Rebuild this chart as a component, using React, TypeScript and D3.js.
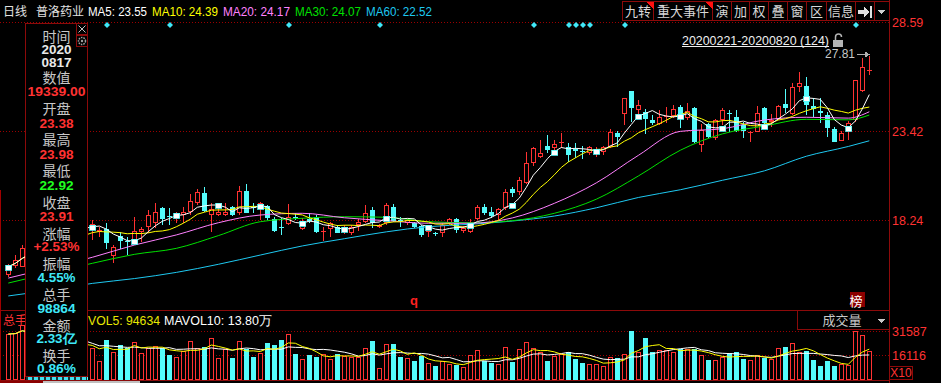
import React from 'react';
import * as d3 from 'd3';

// ---------------- DATA ----------------
const OPEN = [15.04,15.56,15.52,16.5,16.9,17.2,16.8,17.3,17.6,17.4,17.8,18.1,17.70,17.57,17.70,16.16,17.31,17.01,16.88,17.52,17.81,18.08,18.92,18.46,18.28,18.53,18.72,19.25,19.83,18.53,18.53,18.53,18.98,18.66,19.93,19.01,18.92,19.05,18.28,17.85,18.01,18.43,17.70,18.27,18.43,17.56,17.70,17.85,17.55,17.47,17.95,18.14,18.82,17.81,18.05,18.98,18.23,18.05,18.05,17.89,17.56,17.50,17.50,18.05,18.28,17.62,17.56,18.28,18.98,18.72,18.53,18.92,20.03,19.89,20.38,21.58,21.89,22.55,22.41,22.70,22.47,22.35,22.24,22.12,22.08,22.22,22.47,23.32,24.41,25.75,24.64,24.54,24.06,23.83,24.22,24.29,24.80,24.16,24.74,22.61,23.83,22.99,24.06,24.48,24.22,23.79,23.29,23.38,24.74,23.96,24.12,24.99,24.41,26.00,26.04,24.89,24.60,24.35,23.54,22.86,23.38,24.06,25.77,26.91];
const HIGH = [15.68,16.20,16.78,17.0,17.4,17.3,17.5,17.8,17.7,18.0,18.3,18.3,18.24,17.85,18.07,16.78,17.56,17.27,18.40,17.85,18.82,19.25,18.98,18.92,18.72,18.98,19.75,20.03,20.14,19.21,19.25,19.25,19.05,20.22,20.33,19.21,19.30,19.11,18.43,18.34,19.17,18.62,18.36,18.66,18.53,17.81,18.14,17.95,17.95,17.95,18.28,19.11,18.98,18.01,19.21,19.17,18.40,18.28,18.14,17.95,17.76,17.56,18.05,18.34,18.34,17.89,18.28,19.11,19.17,18.98,18.92,20.03,20.18,20.72,22.22,22.47,22.90,23.19,22.90,23.29,22.74,22.70,22.55,22.55,22.47,22.55,23.52,23.44,25.32,25.75,25.22,24.68,24.35,24.64,24.83,24.93,24.93,25.03,24.80,23.83,23.90,24.10,24.74,24.64,24.64,23.96,23.42,24.87,24.80,24.39,24.93,25.85,26.23,26.87,26.55,25.32,25.32,24.51,23.67,23.42,23.98,26.39,27.65,27.81];
const LOW = [14.92,15.45,15.50,16.3,16.7,16.6,16.7,17.1,17.2,17.3,17.6,17.8,17.08,17.27,16.55,15.74,16.53,16.20,16.78,16.98,17.47,17.76,17.95,17.95,18.05,18.05,18.53,19.11,18.72,17.56,18.50,18.50,18.47,18.53,18.63,18.66,18.24,18.24,17.56,17.37,17.95,18.24,17.66,18.08,17.50,17.03,17.27,17.47,17.40,17.37,17.62,18.05,17.76,17.76,17.95,18.14,17.85,17.95,17.76,17.27,17.27,17.31,17.27,17.95,17.50,17.47,17.50,18.24,18.53,18.34,18.24,18.82,19.60,19.69,20.34,21.38,21.83,22.12,22.31,22.41,21.63,21.83,21.77,22.02,21.89,22.02,22.41,22.51,23.77,23.96,24.22,23.25,23.77,23.77,23.87,24.16,23.58,24.06,22.70,22.22,23.00,22.90,23.77,23.38,23.38,22.99,22.80,23.34,23.83,23.67,24.06,24.45,24.35,25.71,24.35,24.25,23.87,23.09,22.80,22.84,22.92,23.96,25.71,26.68];
const CLOSE = [15.52,15.91,16.59,16.9,17.2,16.8,17.3,17.6,17.4,17.8,18.1,17.9,18.01,17.63,16.92,16.65,17.03,16.95,17.60,17.70,18.53,18.72,18.28,18.40,18.59,18.72,19.35,19.85,18.78,18.86,18.72,18.72,18.53,19.93,18.66,18.95,19.21,18.34,17.62,17.78,18.40,18.34,18.14,18.21,17.52,17.62,18.05,17.50,17.80,17.81,18.14,18.66,18.05,17.95,19.11,18.20,18.17,18.24,17.81,17.37,17.70,17.43,17.95,18.28,17.66,17.76,18.08,18.98,18.66,18.47,18.86,19.89,19.79,20.57,21.58,22.41,22.12,22.31,22.66,22.80,22.02,22.27,22.18,22.47,22.27,22.47,23.38,23.05,25.32,24.78,24.93,24.12,23.90,24.22,24.29,24.68,24.35,24.60,22.80,23.48,23.09,24.06,24.64,24.41,23.44,23.44,23.38,24.45,23.87,24.06,24.87,24.74,26.00,26.23,24.93,24.68,24.45,23.58,22.80,23.32,23.91,26.37,27.13,26.97];
const VOLUME = [296500,301000,354500,280000,250000,220000,260000,240000,230000,210000,250000,220000,204300,122500,257800,178600,225600,204300,246900,176000,208200,219200,208200,161200,146300,188900,251400,208200,210800,268800,143700,197900,141800,251400,197900,150200,176000,240400,223700,257800,296500,167600,133400,163100,150200,165700,135400,169500,154700,150200,150200,204300,251400,75400,230100,230100,150200,139900,124400,156600,107600,90200,124400,101200,96700,81900,161200,193400,124400,111500,101200,210800,118000,197900,243000,208200,178600,122500,154700,167600,178600,135400,111500,103100,103100,90200,146300,139900,167600,315900,178600,270700,178600,193400,193400,178600,197900,197900,197900,161200,128900,128900,146300,172100,178600,135400,128900,161200,143700,135400,204300,210800,236600,178600,186900,128900,90200,122500,90200,103100,98864,315900,290100,186900];

const MA_IDX = [0,6,12,18,24,30,36,42,48,54,60,66,72,78,84,90,96,102,108,114,120,123];
const MA20_READ = [14.86,15.45,16.07,16.78,17.37,18.08,18.53,18.63,18.37,18.20,18.05,18.05,18.36,19.21,20.40,22.00,23.40,23.55,24.06,24.22,24.17,24.54];
const MA30_READ = [14.57,15.15,15.72,16.24,16.59,17.33,18.14,18.34,18.43,18.40,18.14,18.08,18.20,18.63,19.45,20.80,22.30,23.25,23.71,24.10,24.07,24.35];
const MA60_READ = [13.82,14.16,14.55,14.83,15.19,15.66,16.20,16.73,17.15,17.55,17.85,17.99,18.18,18.47,18.95,19.55,20.00,20.55,21.10,21.95,22.52,22.85];

const EVENT_IDX = [14,23,40,53,75,80,81,82,83,88,121];
const PRICE_TICKS = [23.42, 18.24];
const PRICE_TOP_LABEL = '28.59';
const VOL_TICKS = [315870, 161160];
const HIGH_LABEL = '27.81';
const RANGE_LABEL = '20200221-20200820 (124)';

const TITLE = ['日线', '普洛药业'];
const MA_LEGEND = ['MA5: 23.55', 'MA10: 24.39', 'MA20: 24.17', 'MA30: 24.07', 'MA60: 22.52'];
const VOL_LEGEND = ['VOL5: 94634', 'MAVOL10: 13.80万'];
const TOOLBAR = ['九转', '重大事件', '演', '加', '权', '叠', '窗', '区', '信息', '', ''];
const INFO_ITEMS = ['时间','2020','0817','数值','19339.00','开盘','23.38','最高','23.98','最低','22.92','收盘','23.91','涨幅','+2.53%','振幅','4.55%','总手','98864','金额','2.33亿','换手','0.86%'];

// ---------------- STYLE / LAYOUT ----------------
const W = 941, H = 383;
const RED = '#ff3232', CYAN = '#54fcfc', DARKRED = '#8c0a0a', GRID = '#9a0000';
const MA_COLORS = ['#ffffff', '#ffff00', '#ff80ff', '#00e000', '#1ec8f0'];
const MA_LEGEND_X = [88, 152, 223, 295, 366];
const MA_LEGEND_W = [59, 66, 67, 66, 66];
const TOOL_X = [622.5, 653.5, 712.5, 731.5, 749.5, 768.5, 787.5, 806.5, 826.5, 855.5, 874.5, 889.5];
const INFO_Y = [35.5, 50, 62.5, 77, 92, 107.5, 123.5, 139, 154.5, 170, 185.5, 201.5, 216.5, 232.5, 246.5, 263, 278, 293.5, 308.5, 325, 339, 355, 368.5];
const INFO_COLORS = ['#c8c8c8','#e8e8e8','#e8e8e8','#c8c8c8',RED,'#c8c8c8',RED,'#c8c8c8',RED,'#c8c8c8','#20ff20','#c8c8c8',RED,'#c8c8c8',RED,'#c8c8c8','#3ee8f8','#c8c8c8','#3ee8f8','#c8c8c8','#3ee8f8','#c8c8c8','#3ee8f8'];
const INFO_W = [0,30,30,0,58,0,34,0,34,0,34,0,34,0,46,0,38,0,38,0,40,0,39];
const LATIN = '"Liberation Sans", Arial, sans-serif';
const CJK = '"Noto Sans CJK SC", "Liberation Sans", sans-serif';

function sma(arr: number[], n: number) {
  return arr.map((_, i) => d3.mean(arr.slice(Math.max(0, i - n + 1), i + 1)) as number);
}

export default function App() {
  const N = CLOSE.length;
  const x = d3.scaleLinear().domain([0, N - 1]).range([8.3, 869.3]);
  const yP = d3.scaleLinear().domain([18.24, 23.42]).range([220, 131]);
  const yV = d3.scaleLinear().domain([0, VOL_TICKS[0]]).range([380, 331]);

  const ma5 = sma(CLOSE, 5);
  const ma10 = sma(CLOSE, 10);
  const vma5 = sma(VOLUME, 5);
  const vma10 = sma(VOLUME, 10);

  const lineIdx = d3.line<number>().x((_, i) => x(i)).y((v) => yP(v));
  const lineRead = d3.line<[number, number]>().x((d) => x(d[0])).y((d) => yP(d[1])).curve(d3.curveMonotoneX);
  const lineVol = d3.line<number>().x((_, i) => x(i)).y((v) => yV(v));
  const pairs = (vals: number[]) => MA_IDX.map((k, j) => [k, vals[j]] as [number, number]);

  const candles = CLOSE.map((c, i) => {
    const o = OPEN[i], h = HIGH[i], l = LOW[i];
    const cx = Math.round(x(i));
    const up = c >= o;
    const top = Math.round(yP(Math.max(o, c)));
    const bot = Math.round(yP(Math.min(o, c)));
    const yh = Math.round(yP(h)), yl = Math.round(yP(l));
    const col = up ? RED : CYAN;
    if (bot - top < 2) {
      return (
        <g key={i}>
          <line x1={cx + 0.5} x2={cx + 0.5} y1={yh} y2={yl} stroke={col} />
          <rect x={cx - 2} y={top} width={5} height={Math.max(1, bot - top)} fill={col} />
        </g>
      );
    }
    if (up) {
      return (
        <g key={i}>
          <line x1={cx + 0.5} x2={cx + 0.5} y1={yh} y2={top} stroke={col} />
          <line x1={cx + 0.5} x2={cx + 0.5} y1={bot} y2={yl} stroke={col} />
          <rect x={cx - 1.5} y={top + 0.5} width={4} height={bot - top - 1} fill="#000" stroke={col} />
        </g>
      );
    }
    return (
      <g key={i}>
        <line x1={cx + 0.5} x2={cx + 0.5} y1={yh} y2={yl} stroke={col} />
        <rect x={cx - 2} y={top} width={5} height={bot - top} fill={col} />
      </g>
    );
  });

  const volBars = VOLUME.map((v, i) => {
    const cx = Math.round(x(i));
    const up = CLOSE[i] >= OPEN[i];
    const top = Math.round(yV(v));
    return up ? (
      <rect key={i} x={cx - 1.5} y={top + 0.5} width={4} height={380 - top - 1} fill="#000" stroke={RED} />
    ) : (
      <rect key={i} x={cx - 2} y={top} width={5} height={380 - top} fill={CYAN} />
    );
  });

  const markers = CLOSE.map((_, i) => i).filter((i) => i % 6 === 0).map((i) => {
    const cx = Math.round(x(i));
    const cy = Math.round(yP(ma5[i]));
    return <rect key={i} x={cx - 2.5} y={cy - 2} width={6} height={5} fill="#ffffff" stroke={CYAN} strokeWidth={0.8} />;
  });

  const scrollDots = d3.range(28, 86, 6);

  return (
    <svg width={W} height={H} style={{ position: 'fixed', left: 0, top: 0, background: '#000' }} shapeRendering="crispEdges">
      <defs>
        <clipPath id="pclip"><rect x={0} y={22} width={889} height={288} /></clipPath>
        <clipPath id="vclip"><rect x={0} y={311} width={889} height={70} /></clipPath>
      </defs>
      <rect x={0} y={0} width={W} height={H} fill="#000" />

      {/* header */}
      <g fontFamily={CJK} fontSize={12} fill="#e0e0e0">
        <text x={3} y={16}>{TITLE[0]}</text>
        <text x={36} y={16}>{TITLE[1]}</text>
      </g>
      <g fontFamily={LATIN} fontSize={12.5}>
        {MA_LEGEND.map((t, k) => (
          <text key={k} x={MA_LEGEND_X[k]} y={16} fill={MA_COLORS[k]} textLength={MA_LEGEND_W[k]} lengthAdjust="spacingAndGlyphs">{t}</text>
        ))}
      </g>

      {/* toolbar */}
      <g>
        {TOOLBAR.map((t, k) => (
          <g key={k}>
            <rect x={TOOL_X[k]} y={1.5} width={TOOL_X[k + 1] - TOOL_X[k]} height={19} fill="#000" stroke={DARKRED} />
            {t && <text x={(TOOL_X[k] + TOOL_X[k + 1]) / 2} y={16} textAnchor="middle" fontFamily={CJK} fontSize={13} fill="#d8d8d8">{t}</text>}
          </g>
        ))}
        <path d={`M${TOOL_X[1] - 7},2 L${TOOL_X[1]},2 L${TOOL_X[1]},9 Z`} fill="#ff1010" />
        <path d={`M${TOOL_X[2] - 7},2 L${TOOL_X[2]},2 L${TOOL_X[2]},9 Z`} fill="#ff1010" />
        <path d="M858,10 H864 V7 L869,12 L864,17 V14 H858 Z" fill="#e0e0e0" />
        <rect x={870} y={6} width={2} height={12} fill="#e0e0e0" />
        <path d="M878,10 L885,10 L881.5,14 Z" fill="#d0d0d0" />
      </g>

      {/* grid */}
      <g stroke={GRID} strokeDasharray="1 2">
        <line x1={0} x2={889} y1={22.5} y2={22.5} />
        {PRICE_TICKS.map((t) => <line key={t} x1={0} x2={889} y1={Math.round(yP(t)) + 0.5} y2={Math.round(yP(t)) + 0.5} />)}
        {VOL_TICKS.map((t) => <line key={t} x1={0} x2={889} y1={Math.round(yV(t)) + 0.5} y2={Math.round(yV(t)) + 0.5} />)}
      </g>

      {/* event diamonds */}
      {EVENT_IDX.map((i) => {
        const cx = Math.round(x(i)) + 1;
        return <path key={i} d={`M${cx},22 L${cx + 3},25 L${cx},28 L${cx - 3},25 Z`} fill="#40e8f8" shapeRendering="auto" />;
      })}

      {/* price panel */}
      <g clipPath="url(#pclip)">
        {candles}
        <g fill="none" strokeWidth={1} shapeRendering="auto">
          <path d={lineRead(pairs(MA60_READ)) || ''} stroke={MA_COLORS[4]} />
          <path d={lineRead(pairs(MA30_READ)) || ''} stroke={MA_COLORS[3]} />
          <path d={lineRead(pairs(MA20_READ)) || ''} stroke={MA_COLORS[2]} />
          <path d={lineIdx(ma10) || ''} stroke={MA_COLORS[1]} />
          <path d={lineIdx(ma5) || ''} stroke={MA_COLORS[0]} />
        </g>
        {markers}
      </g>

      {/* max label */}
      <text x={825} y={58} fontFamily={LATIN} fontSize={12} fill="#c8c8c8">{HIGH_LABEL}</text>
      <line x1={857} x2={866} y1={54.5} y2={54.5} stroke="#b0b0b0" />
      <path d="M865,51.5 L870,54.5 L865,57.5 Z" fill="#b0b0b0" />
      <text x={682} y={45} fontFamily={LATIN} fontSize={12} fill="#f0f0f0" textLength={147} lengthAdjust="spacingAndGlyphs">{RANGE_LABEL}</text>
      <line x1={682} x2={829} y1={46.5} y2={46.5} stroke="#f0f0f0" />
      <rect x={833} y={40} width={10} height={7} fill="#b4b4b4" />
      <path d="M835.5,40 V37 a3,3 0 0 1 6,0" fill="none" stroke="#b4b4b4" strokeWidth={1.5} shapeRendering="auto" />

      {/* markers q and 榜 */}
      <text x={414} y={305} textAnchor="middle" fontFamily={LATIN} fontWeight="bold" fontSize={13} fill="#ff2020">q</text>
      <rect x={850} y={292} width={15} height={15} fill="#8b0000" />
      <text x={856} y={306} textAnchor="middle" fontFamily={CJK} fontSize={13} fill="#ffffff">榜</text>

      {/* panel separators / axis */}
      <line x1={0} x2={889} y1={310.5} y2={310.5} stroke={DARKRED} />
      <line x1={0} x2={889} y1={380.5} y2={380.5} stroke={DARKRED} />
      <line x1={889.5} x2={889.5} y1={0} y2={H} stroke={DARKRED} />
      <line x1={0.5} x2={0.5} y1={190} y2={H} stroke="#a00000" />

      {/* volume panel */}
      <g clipPath="url(#vclip)">
        {volBars}
        <g fill="none" shapeRendering="auto">
          <path d={lineVol(vma10) || ''} stroke="#ffffff" />
          <path d={lineVol(vma5) || ''} stroke="#ffff00" />
        </g>
      </g>
      <text x={3} y={325} fontFamily={CJK} fontSize={12} fill={RED}>总手</text>
      <text x={88} y={325} fontFamily={LATIN} fontSize={12.5} fill="#e8e800" textLength={72} lengthAdjust="spacingAndGlyphs">{VOL_LEGEND[0]}</text>
      <text x={164} y={325} fontFamily={LATIN} fontSize={12.5} fill="#ffffff">{VOL_LEGEND[1]}</text>
      <rect x={797.5} y={310.5} width={92} height={19} fill="#000" stroke={DARKRED} />
      <text x={842} y={325} textAnchor="middle" fontFamily={CJK} fontSize={13} fill="#c8c8c8">成交量</text>
      <path d="M878,319 L885,319 L881.5,323 Z" fill="#c8c8c8" />

      {/* right axis labels */}
      <g fontFamily={LATIN} fontSize={12.5} fill="#ff3232" dominantBaseline="central">
        <text x={892} y={23}>{PRICE_TOP_LABEL}</text>
        {PRICE_TICKS.map((t) => <text key={t} x={892} y={Math.round(yP(t)) + 0.5}>{t.toFixed(2)}</text>)}
        {VOL_TICKS.map((t) => <text key={t} x={892} y={Math.round(yV(t)) + 0.5}>{String(t / 10)}</text>)}
      </g>
      <rect x={889.5} y={366.5} width={23} height={13} fill="none" stroke={DARKRED} />
      <text x={901} y={377} textAnchor="middle" fontFamily={LATIN} fontSize={12} fill="#ff3232">X10</text>

      {/* info box */}
      <rect x={25.5} y={23.5} width={62} height={353} fill="#000" stroke={DARKRED} />
      <rect x={76.5} y={23.5} width={11} height={11} fill="#000" stroke={DARKRED} />
      <path d="M78.5,25.5 L85.5,32.5 M85.5,25.5 L78.5,32.5" stroke="#c0c0c0" shapeRendering="auto" />
      <rect x={76.5} y={35.5} width={11} height={11} fill="#000" stroke={DARKRED} />
      <circle cx={82} cy={41} r={3.5} fill="none" stroke="#a0a0a0" strokeWidth={1.5} strokeDasharray="1.5 1" shapeRendering="auto" />
      <circle cx={82} cy={41} r={1.2} fill="#a0a0a0" shapeRendering="auto" />
      {INFO_ITEMS.map((t, k) => {
        const isLabel = INFO_W[k] === 0;
        return (
          <text key={k} x={56.5} y={INFO_Y[k]} textAnchor="middle" dominantBaseline="central"
            fontFamily={isLabel ? CJK : LATIN} fontWeight={isLabel ? 'normal' : 'bold'}
            fontSize={isLabel ? 14 : 12.5} fill={INFO_COLORS[k]}
            {...(isLabel ? {} : { textLength: INFO_W[k], lengthAdjust: 'spacingAndGlyphs' })}>{t}</text>
        );
      })}
      <rect x={26} y={377} width={61} height={3} fill="#103838" />
      {scrollDots.map((sx) => <rect key={sx} x={sx} y={377} width={4} height={3} fill="#40e0f0" />)}
      <rect x={0} y={381} width={43} height={2} fill="#8b0000" />
      <rect x={43} y={380.5} width={97} height={2.5} fill="#c0c0c0" />
    </svg>
  );
}
